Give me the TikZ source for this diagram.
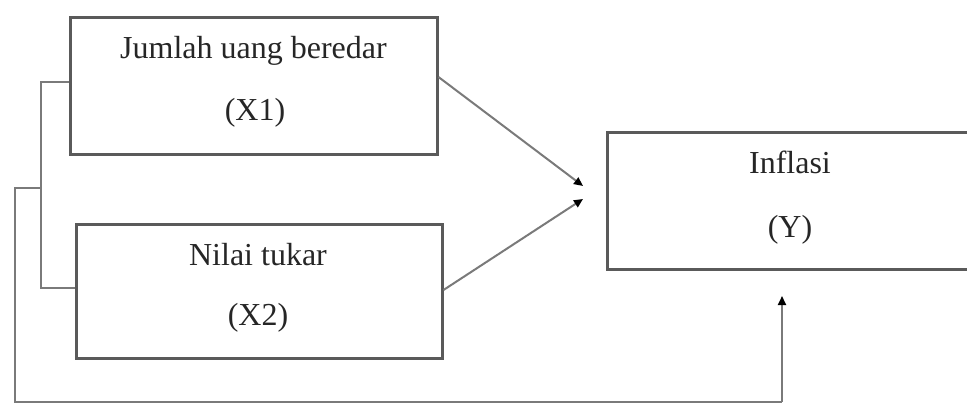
\documentclass[tikz,border=0pt]{standalone}
\usepackage{fontspec}
\setmainfont{Liberation Serif}
\usetikzlibrary{arrows.meta}
\definecolor{boxgray}{HTML}{5A5A5A}
\definecolor{linegray}{HTML}{7A7A7A}
\tikzset{
  varbox/.style={draw=boxgray, line width=3pt, minimum width=#1, inner sep=0pt, fill=none},
  lbl/.style={anchor=base, inner sep=0pt, font=\fontsize{32}{38}\selectfont, text=black!85},
  conn/.style={draw=linegray, line width=2pt},
  arr/.style={conn, -{Triangle[length=9pt,width=8pt,color=black]}, shorten >=0pt}
}
\begin{document}
\begin{tikzpicture}[x=1pt,y=-1pt]
\useasboundingbox (0,0) rectangle (967,405);
\node[varbox=367pt, minimum height=137pt] (x1) at (253.5,85.5) {};
\node[varbox=366pt, minimum height=134pt] (x2) at (259,291) {};
\node[varbox=366pt, minimum height=137pt] (y) at (790,200.5) {};
\node[lbl] (t1a) at (253.5,58) {Jumlah uang beredar};
\node[lbl] (t1b) at (255,120) {(X1)};
\node[lbl] (t2a) at (258,265) {Nilai tukar};
\node[lbl] (t2b) at (258,325) {(X2)};
\node[lbl] (t3a) at (790,173) {Inflasi};
\node[lbl] (t3b) at (790,237) {(Y)};
\coordinate (tipA) at (583,186);
\coordinate (tipB) at (583,199);
\coordinate (tipC) at (782,296);
\coordinate (b1) at (41,82);
\coordinate (b2) at (41,288);
\coordinate (b3) at (41,188);
\coordinate (b4) at (15,188);
\coordinate (b5) at (15,402);
\coordinate (b6) at (782,402);
\draw[conn] (x1.west |- b1) -- (b1) -- (b2) -- (x2.west |- b2);
\draw[conn] (b3) -- (b4) -- (b5) -- (b6);
\draw[arr] (b6) -- (tipC);
\draw[arr] ([yshift=8.5pt]x1.east) -- (tipA);
\draw[arr] ([yshift=1pt]x2.east) -- (tipB);
\end{tikzpicture}
\end{document}
